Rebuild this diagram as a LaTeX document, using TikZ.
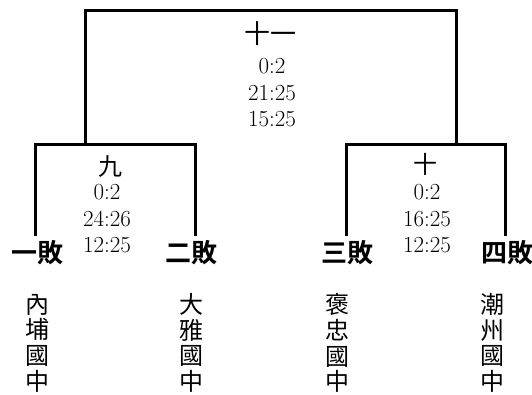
\documentclass[tikz,border=0pt]{standalone}
\usepackage{fontspec}
\newfontfamily\cjk{Noto Sans CJK TC}[BoldFont={Noto Sans CJK TC Bold}]
\usetikzlibrary{positioning}

\begin{document}
\begin{tikzpicture}[
  x=1pt,y=-1pt,
  bracket/.style={line width=3pt},
  rnd/.style={font=\cjk\fontsize{24}{24}\selectfont,inner sep=0pt,
    text height=0.8em,text depth=0pt},
  score/.style={align=center,inner sep=0pt,font=\rmfamily\fontsize{23}{26.5}\selectfont},
  lose/.style={font=\cjk\bfseries\fontsize{26}{26}\selectfont,inner sep=0pt},
  school/.style={align=center,inner sep=0pt,font=\cjk\fontsize{24}{25.7}\selectfont}
]
  \useasboundingbox (0,0) rectangle (532,395);
  % bracket ends and joints
  \coordinate (a1) at (35,236);
  \coordinate (a2) at (195,236);
  \coordinate (a3) at (346,236);
  \coordinate (a4) at (505,236);
  \coordinate (j9) at (85,145);
  \coordinate (j10) at (456,145);
  \coordinate (top) at (270,11);
  \draw[bracket] (a1) |- (j9) -| (a2);
  \draw[bracket] (a3) |- (j10) -| (a4);
  \draw[bracket] (j9) |- (top) -| (j10);
  % matches
  \node[rnd,font=\cjk\fontsize{26}{26}\selectfont] (m11) at (270,40) {十一};
  \node[score] (s11) at (272,93) {0:2\\21:25\\15:25};
  \node[rnd] (m9) at (110,172) {九};
  \node[score] (s9) at (107,219) {0:2\\24:26\\12:25};
  \node[rnd] (m10) at (425,170) {十};
  \node[score] (s10) at (427,219) {0:2\\16:25\\12:25};
  % losers
  \node[lose] (l1) at (37,253) {一敗};
  \node[lose] (l2) at (191,253) {二敗};
  \node[lose] (l3) at (347,253) {三敗};
  \node[lose] (l4) at (507,253) {四敗};
  % schools
  \node[school] (t1) at (37,343) {內\\埔\\國\\中};
  \node[school] (t2) at (191,343) {大\\雅\\國\\中};
  \node[school] (t3) at (337,343) {褒\\忠\\國\\中};
  \node[school] (t4) at (492,343) {潮\\州\\國\\中};
\end{tikzpicture}
\end{document}
